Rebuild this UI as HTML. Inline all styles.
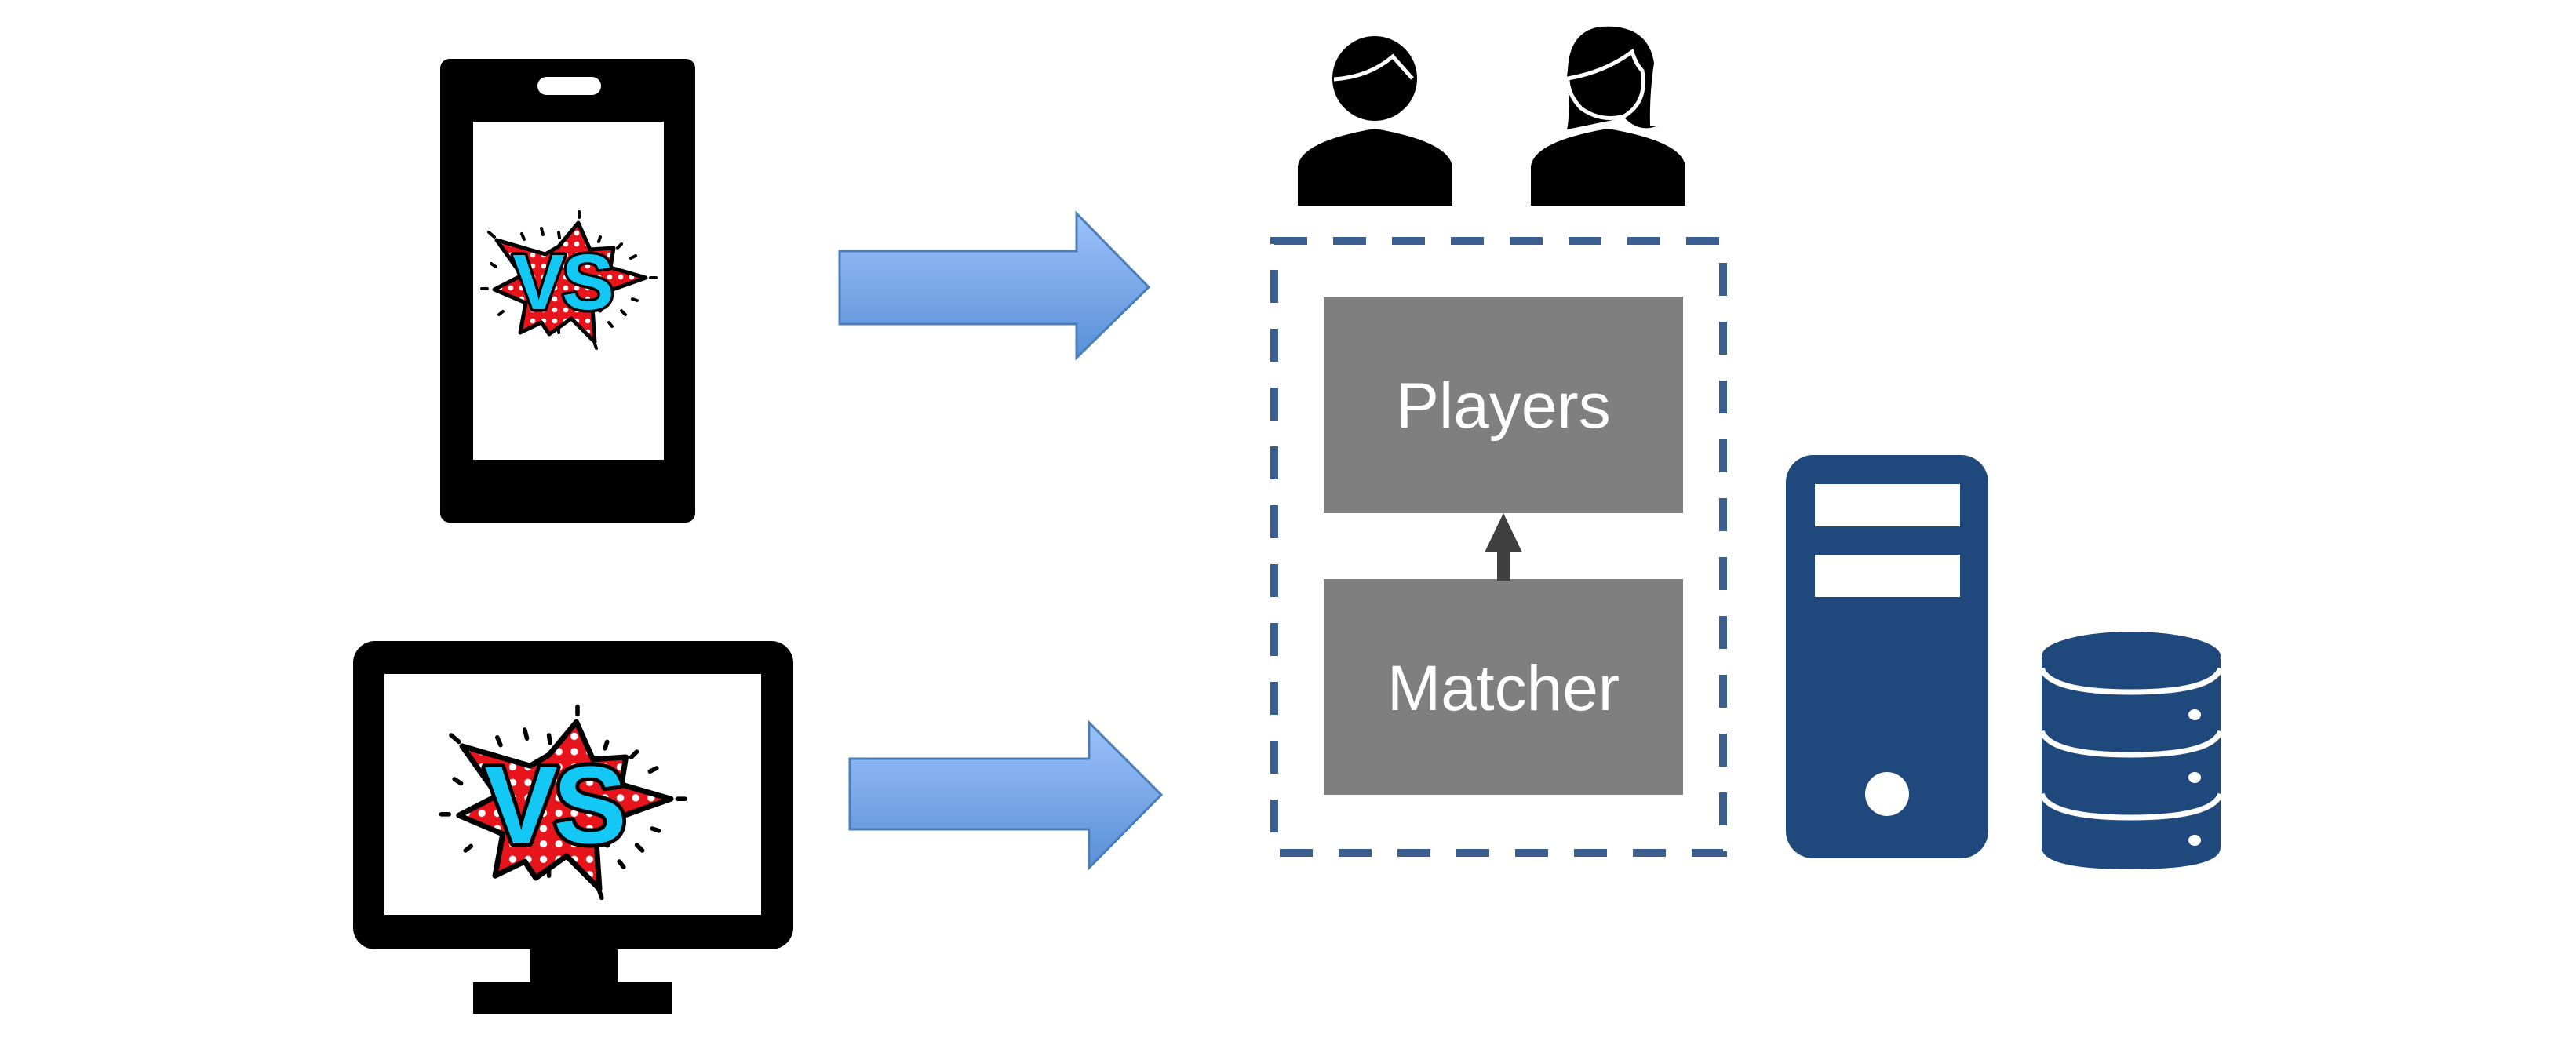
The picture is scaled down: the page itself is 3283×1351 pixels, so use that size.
<!DOCTYPE html>
<html><head><meta charset="utf-8"><style>html,body{margin:0;padding:0;background:#fff}svg{display:block}</style></head>
<body>
<svg width="3283" height="1351" viewBox="0 0 3283 1351" xmlns="http://www.w3.org/2000/svg">
<defs>
<linearGradient id="ag" x1="0" y1="0" x2="0" y2="1"><stop offset="0" stop-color="#9cc2fa"/><stop offset="1" stop-color="#5a8fd8"/></linearGradient>
<pattern id="dots" width="14" height="14" patternUnits="userSpaceOnUse"><rect width="14" height="14" fill="#e8141c"/><circle cx="7" cy="7" r="3.3" fill="#fff"/></pattern>
<g id="vs">
<g stroke="#000" stroke-width="4" stroke-linecap="round">
<line x1="623" y1="300" x2="630" y2="306"/><line x1="665" y1="302" x2="668" y2="309"/><line x1="690" y1="295" x2="692" y2="303"/><line x1="712" y1="300" x2="713" y2="307"/><line x1="738" y1="274" x2="738" y2="281"/><line x1="765" y1="306" x2="763" y2="312"/><line x1="792" y1="315" x2="787" y2="320"/><line x1="810" y1="330" x2="804" y2="333"/><line x1="836" y1="358" x2="829" y2="358"/><line x1="812" y1="387" x2="806" y2="385"/><line x1="797" y1="405" x2="792" y2="400"/><line x1="780" y1="420" x2="776" y2="415"/><line x1="760" y1="448" x2="758" y2="442"/><line x1="712" y1="428" x2="712" y2="421"/><line x1="687" y1="413" x2="689" y2="407"/><line x1="636" y1="405" x2="641" y2="401"/><line x1="614" y1="372" x2="621" y2="372"/><line x1="626" y1="340" x2="632" y2="344"/><line x1="670" y1="423" x2="673" y2="417"/>
</g>
<polygon points="633,310 695,328 712,318 737,288 752,322 782,320 778,345 823,358 775,375 765,400 755,395 758,440 728,410 700,430 690,415 663,428 670,390 630,373 665,355" fill="url(#dots)" stroke="#000" stroke-width="5" stroke-linejoin="round"/>
<text x="716" y="398" text-anchor="middle" font-family="Liberation Sans, sans-serif" font-weight="bold" font-size="100" fill="#14c8f5" stroke="#000" stroke-width="7" paint-order="stroke" stroke-linejoin="round" letter-spacing="-4">VS</text>
</g>
</defs>

<!-- Phone -->
<rect x="561" y="75" width="325" height="591" rx="12" fill="#000"/>
<rect x="603" y="155" width="243" height="431" fill="#fff"/>
<rect x="685" y="98" width="81" height="23" rx="11.5" fill="#fff"/>
<g transform="translate(0,-4)"><use href="#vs"/></g>

<!-- Monitor -->
<rect x="450" y="817" width="561" height="393" rx="28" fill="#000"/>
<rect x="490" y="859" width="480" height="307" fill="#fff"/>
<rect x="676" y="1206" width="111" height="48" fill="#000"/>
<rect x="603" y="1252" width="253" height="40" fill="#000"/>
<g transform="translate(722,1021) scale(1.4) translate(-728,-360)"><use href="#vs"/></g>

<!-- Arrows -->
<polygon points="1070,320 1372,320 1372,272 1464,366 1372,456 1372,413 1070,413" fill="url(#ag)" stroke="#4a7ebb" stroke-width="3"/>
<polygon points="1083,967 1388,967 1388,921 1480,1013 1388,1106 1388,1057 1083,1057" fill="url(#ag)" stroke="#4a7ebb" stroke-width="3"/>

<!-- People -->
<path d="M1654,262 V212 Q1658,180 1752,164 Q1846,180 1851,212 V262 Z" fill="#000"/>
<circle cx="1752" cy="100" r="54" fill="#000"/>
<path d="M1700,101 Q1745,98 1775,72 L1800,100" fill="none" stroke="#fff" stroke-width="5"/>
<path d="M1951,262 V212 Q1955,180 2049,164 Q2144,180 2148,212 V262 Z" fill="#000"/>
<path d="M1997,165 Q2001,150 1998,100 Q1996,40 2040,34 Q2100,30 2108,80 Q2102,120 2103,160 L2113,160 Q2090,170 2070,150 Z" fill="#000"/>
<circle cx="2049" cy="100" r="52" fill="#000"/>
<path d="M1998,100 Q2045,92 2080,66 Q2085,82 2093,90 Q2100,130 2070,148 Q2040,156 2015,138 Q1998,120 1998,100 Z" fill="none" stroke="#fff" stroke-width="5"/>

<!-- Dashed box -->
<rect x="1624" y="307" width="572" height="780" fill="none" stroke="#3a5f8f" stroke-width="10" stroke-dasharray="42 33"/>

<!-- Boxes -->
<rect x="1687" y="378" width="458" height="276" fill="#7f7f7f"/>
<text x="1916" y="545" text-anchor="middle" font-family="Liberation Sans, sans-serif" font-size="82" fill="#fff">Players</text>
<rect x="1687" y="738" width="458" height="275" fill="#7f7f7f"/>
<text x="1916" y="905" text-anchor="middle" font-family="Liberation Sans, sans-serif" font-size="82" fill="#fff">Matcher</text>
<rect x="1908" y="702" width="16" height="38" fill="#404040"/>
<polygon points="1916,654 1940,704 1892,704" fill="#404040"/>

<!-- Server -->
<rect x="2276" y="580" width="258" height="514" rx="35" fill="#1f497d"/>
<rect x="2313" y="617" width="185" height="54" fill="#fff"/>
<rect x="2313" y="707" width="185" height="54" fill="#fff"/>
<circle cx="2405" cy="1012" r="28" fill="#fff"/>

<!-- Database -->
<path d="M2602,839 V1080 Q2602,1108 2716,1108 Q2830,1108 2830,1080 V839 Z" fill="#1f497d"/>
<ellipse cx="2716" cy="836" rx="114" ry="31" fill="#1f497d"/>
<path d="M2602,852 Q2613,882 2716,882 Q2819,882 2830,852" fill="none" stroke="#fff" stroke-width="7"/>
<path d="M2602,932 Q2613,962 2716,962 Q2819,962 2830,932" fill="none" stroke="#fff" stroke-width="7"/>
<path d="M2602,1012 Q2613,1042 2716,1042 Q2819,1042 2830,1012" fill="none" stroke="#fff" stroke-width="7"/>
<ellipse cx="2797" cy="911" rx="8" ry="7" fill="#fff"/>
<ellipse cx="2797" cy="991" rx="8" ry="7" fill="#fff"/>
<ellipse cx="2797" cy="1071" rx="8" ry="7" fill="#fff"/>
</svg>
</body></html>
